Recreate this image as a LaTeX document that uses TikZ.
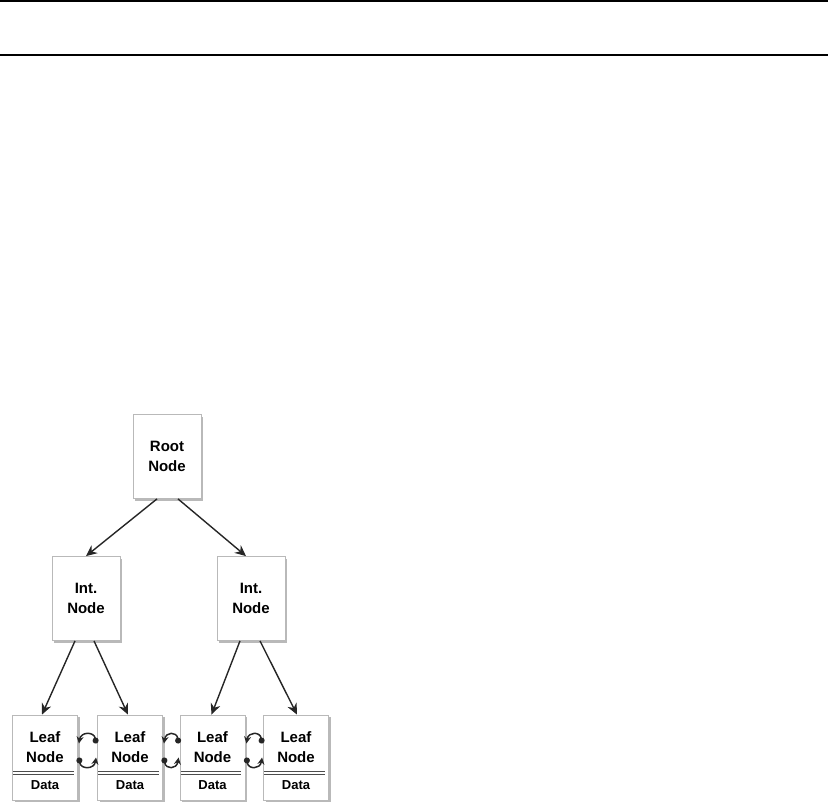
\documentclass[tikz,border=0pt]{standalone}
\usepackage{fontspec}
\setmainfont{Liberation Sans}
\usetikzlibrary{arrows.meta,shadows}

\tikzset{
  box/.style={draw=gray!55, fill=white, line width=0.8pt, inner sep=0pt,
    minimum width=68pt, minimum height=84pt, align=center,
    font=\bfseries\fontsize{15}{20}\selectfont,
    drop shadow={shadow xshift=2pt, shadow yshift=-2pt, fill=gray!55, opacity=1}},
  leafbox/.style={box, minimum width=65pt, minimum height=85pt},
  label/.style={inner sep=0pt, align=center, font=\bfseries\fontsize{15}{20}\selectfont},
  datalabel/.style={inner sep=0pt, font=\bfseries\fontsize{13}{16}\selectfont},
  edge/.style={draw=black!85, line width=1.4pt, -{Stealth[length=11pt,width=10pt]}},
  link/.style={draw=black!85, line width=1.5pt, {Circle[length=6pt]}-{Stealth[length=7pt,width=7pt]}},
}

\begin{document}
\begin{tikzpicture}[x=1pt,y=-1pt]
  \useasboundingbox (0,0) rectangle (828,811);

  % rules at the top
  \draw[line width=2pt] (0,1) -- (828,1);
  \draw[line width=1.5pt] (0,55) -- (828,55);

  % tree
  \node[box] (root) at (167,456.5) {Root\\Node};
  \node[box] (intL) at (86,598.5) {Int.\\Node};
  \node[box] (intR) at (251,598.5) {Int.\\Node};

  \foreach \n/\x in {A/45,B/130,C/212.5,D/296}{
    \node[leafbox] (leaf\n) at (\x,757.5) {};
    \node[label] (leaf\n txt) at ([yshift=10]leaf\n.center) {Leaf\\Node};
    \draw[black!70, line width=0.9pt]
      ([xshift=1,yshift=-13.5]leaf\n.west) -- ([xshift=-4,yshift=-13.5]leaf\n.east)
      ([xshift=1,yshift=-16.5]leaf\n.west) -- ([xshift=-4,yshift=-16.5]leaf\n.east);
    \node[datalabel] (leaf\n data) at ([yshift=-27.5]leaf\n.center) {Data};
  }

  \draw[edge] ([xshift=-10]root.south) -- (intL.north);
  \draw[edge] ([xshift=11]root.south) -- ([xshift=-5]intR.north);
  \draw[edge] ([xshift=-11]intL.south) -- ([xshift=-3]leafA.north);
  \draw[edge] ([xshift=8]intL.south) -- ([xshift=-2]leafB.north);
  \draw[edge] ([xshift=-11]intR.south) -- ([xshift=-1]leafC.north);
  \draw[edge] ([xshift=9]intR.south) -- ([xshift=1]leafD.north);

  % sibling links
  \foreach \a/\b in {A/B,B/C,C/D}{
    \draw[link] ([xshift=-1,yshift=14]leaf\b.west) .. controls +(-2,-12) and +(2,-12) .. ([xshift=1,yshift=14]leaf\a.east);
    \draw[link] ([xshift=1,yshift=0]leaf\a.east) .. controls +(2,12) and +(-2,12) .. ([xshift=-1,yshift=0]leaf\b.west);
  }
\end{tikzpicture}
\end{document}
